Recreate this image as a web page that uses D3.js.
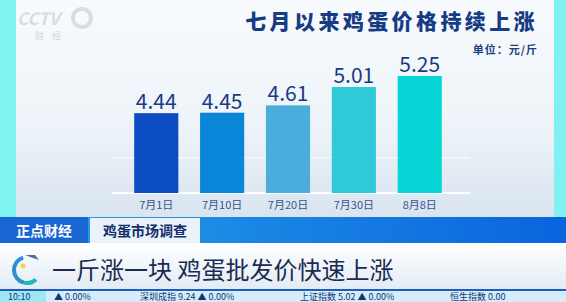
<!DOCTYPE html>
<html>
<head>
<meta charset="utf-8">
<script src="https://cdn.jsdelivr.net/npm/d3@7"></script>
<style>
  body { margin: 0; overflow: hidden; background: #fff; }
  svg { display: block; }
  text { font-family: "Noto Sans CJK SC", "Noto Sans", sans-serif; }
</style>
</head>
<body>
<svg id="chart" width="566" height="302"></svg>
<script>
// data
var dates = ["7月1日", "7月10日", "7月20日", "7月30日", "8月8日"];
var prices = [4.44, 4.45, 4.61, 5.01, 5.25];
var barColors = ["#0b4cc0", "#0a86d8", "#4aaddc", "#30c9d9", "#06d6d6"];
var title = "七月以来鸡蛋价格持续上涨";
var unitLabel = "单位：元/斤";
var headline = "一斤涨一块 鸡蛋批发价快速上涨";
var tickerItems = ["▲ 0.00%", "深圳成指 9.24 ▲ 0.00%", "上证指数 5.02 ▲ 0.00%", "恒生指数 0.00"];

var svg = d3.select("#chart");
var defs = svg.append("defs");

var bg = defs.append("linearGradient").attr("id", "bg")
    .attr("x1", 0).attr("y1", 0).attr("x2", 0).attr("y2", 1);
bg.append("stop").attr("offset", 0).attr("stop-color", "#f8fbfd");
bg.append("stop").attr("offset", 0.55).attr("stop-color", "#eef4f9");
bg.append("stop").attr("offset", 1).attr("stop-color", "#d9e4ef");

var band = defs.append("linearGradient").attr("id", "band")
    .attr("x1", 0).attr("y1", 0).attr("x2", 1).attr("y2", 0);
band.append("stop").attr("offset", 0).attr("stop-color", "#2fa6ea");
band.append("stop").attr("offset", 0.45).attr("stop-color", "#1a86e4");
band.append("stop").attr("offset", 1).attr("stop-color", "#0a64de");

var white = defs.append("linearGradient").attr("id", "white")
    .attr("x1", 0).attr("y1", 0).attr("x2", 0).attr("y2", 1);
white.append("stop").attr("offset", 0).attr("stop-color", "#ffffff");
white.append("stop").attr("offset", 1).attr("stop-color", "#e2ebf4");

// backdrop
svg.append("rect").attr("x", 0).attr("y", 0).attr("width", 566).attr("height", 218).attr("fill", "url(#bg)");
svg.append("rect").attr("x", 0).attr("y", 0).attr("width", 16).attr("height", 218).attr("fill", "#7ff2f2");
svg.append("rect").attr("x", 554).attr("y", 0).attr("width", 12).attr("height", 218).attr("fill", "#80f0f2");

// faded channel watermark
svg.append("text").attr("x", 17).attr("y", 25)
    .attr("font-family", "DejaVu Sans").attr("font-weight", "bold").attr("font-style", "italic")
    .attr("font-size", 17).attr("fill", "#d6dce1").text("CCTV");
svg.append("circle").attr("cx", 82).attr("cy", 18).attr("r", 9)
    .attr("fill", "none").attr("stroke", "#d8dde2").attr("stroke-width", 4);
svg.append("text").attr("x", 35).attr("y", 39).attr("font-size", 9)
    .attr("fill", "#d0d6db").attr("letter-spacing", 8).text("财经");

// title
svg.append("text").attr("x", 538).attr("y", 29).attr("text-anchor", "end")
    .attr("font-size", 21).attr("font-weight", 900).attr("letter-spacing", 3.4)
    .attr("fill", "#173c86").text(title);
svg.append("text").attr("x", 538).attr("y", 54).attr("text-anchor", "end")
    .attr("font-size", 11).attr("font-weight", "bold").attr("letter-spacing", 1)
    .attr("fill", "#1d3f80").text(unitLabel);

// scales
var x = d3.scaleBand().domain(dates).range([123, 453]).paddingInner(0.33).paddingOuter(0.17);
var y = d3.scaleLinear().domain([2.7, 5.25]).range([193, 76]);

// faint guide lines
svg.selectAll("line.grid").data([y(3.47), y(2.7)]).enter().append("line")
    .attr("class", "grid")
    .attr("x1", 112).attr("x2", 470)
    .attr("y1", function(d) { return d; }).attr("y2", function(d) { return d; })
    .attr("stroke", "#ffffff")
    .attr("stroke-opacity", function(d, i) { return i ? 0.9 : 0.5; })
    .attr("stroke-width", 2);

// bars
svg.selectAll("rect.bar").data(prices).enter().append("rect")
    .attr("class", "bar")
    .attr("x", function(d, i) { return x(dates[i]); })
    .attr("y", function(d) { return y(d); })
    .attr("width", x.bandwidth())
    .attr("height", function(d) { return y(2.7) - y(d); })
    .attr("fill", function(d, i) { return barColors[i]; });

// value labels
svg.selectAll("text.val").data(prices).enter().append("text")
    .attr("class", "val")
    .attr("x", function(d, i) { return x(dates[i]) + x.bandwidth() / 2; })
    .attr("y", function(d) { return y(d) - 4; })
    .attr("text-anchor", "middle")
    .attr("font-family", "Liberation Sans, Arial, sans-serif")
    .attr("font-size", 21).attr("fill", "#1a3b84")
    .text(function(d) { return d.toFixed(2); });

// category axis
var xAxis = svg.append("g").attr("transform", "translate(0,193)")
    .call(d3.axisBottom(x).tickSize(0).tickPadding(7));
xAxis.select(".domain").remove();
xAxis.selectAll("text")
    .attr("font-family", "Noto Sans CJK SC").attr("font-size", 11)
    .attr("fill", "#34558f").attr("dy", "0.85em");

// program strip
svg.append("rect").attr("x", 0).attr("y", 217).attr("width", 566).attr("height", 26).attr("fill", "url(#band)");
svg.append("rect").attr("x", 0).attr("y", 217).attr("width", 88).attr("height", 26).attr("fill", "#1866d2");
svg.append("text").attr("x", 44).attr("y", 236).attr("text-anchor", "middle")
    .attr("font-size", 14).attr("font-weight", "bold").attr("fill", "#ffffff").text("正点财经");
svg.append("rect").attr("x", 90).attr("y", 218).attr("width", 110).attr("height", 25).attr("fill", "#e9f2fa");
svg.append("text").attr("x", 145).attr("y", 236).attr("text-anchor", "middle")
    .attr("font-size", 14).attr("font-weight", "bold").attr("fill", "#142e6a").text("鸡蛋市场调查");

// headline strip
svg.append("rect").attr("x", 0).attr("y", 243).attr("width", 566).attr("height", 47).attr("fill", "url(#white)");
var logo = svg.append("g").attr("transform", "translate(27,270)");
var arc = d3.arc();
logo.append("path").attr("d", arc({ innerRadius: 11, outerRadius: 15, startAngle: -0.3, endAngle: -2.9 }))
    .attr("fill", "#2b8fd0");
logo.append("path").attr("d", arc({ innerRadius: 11, outerRadius: 15, startAngle: -2.9, endAngle: -3.9 }))
    .attr("fill", "#26b7b4");
logo.append("path").attr("d", "M-2,-15 L8,-15 L12,-10 L6,-12 Z").attr("fill", "#4a6f96");
logo.append("circle").attr("cx", -4).attr("cy", -4).attr("r", 2.5).attr("fill", "#f0d44a");
svg.append("text").attr("x", 52).attr("y", 279)
    .attr("font-size", 24).attr("fill", "#1b2b52").text(headline);

// ticker
svg.append("rect").attr("x", 0).attr("y", 289).attr("width", 566).attr("height", 2).attr("fill", "#1f5dbd");
svg.append("rect").attr("x", 0).attr("y", 291).attr("width", 566).attr("height", 11).attr("fill", "#d6ecfb");
svg.append("rect").attr("x", 0).attr("y", 291).attr("width", 46).attr("height", 11).attr("fill", "#9fe6f3");
svg.append("text").attr("x", 8).attr("y", 300).attr("font-size", 9).attr("fill", "#14356f").text("10:10");
svg.selectAll("text.tick-item").data(tickerItems).enter().append("text")
    .attr("class", "tick-item")
    .attr("x", function(d, i) { return [54, 140, 300, 450][i]; })
    .attr("y", 300).attr("font-size", 9).attr("fill", "#14356f")
    .text(function(d) { return d; });
</script>
</body>
</html>
